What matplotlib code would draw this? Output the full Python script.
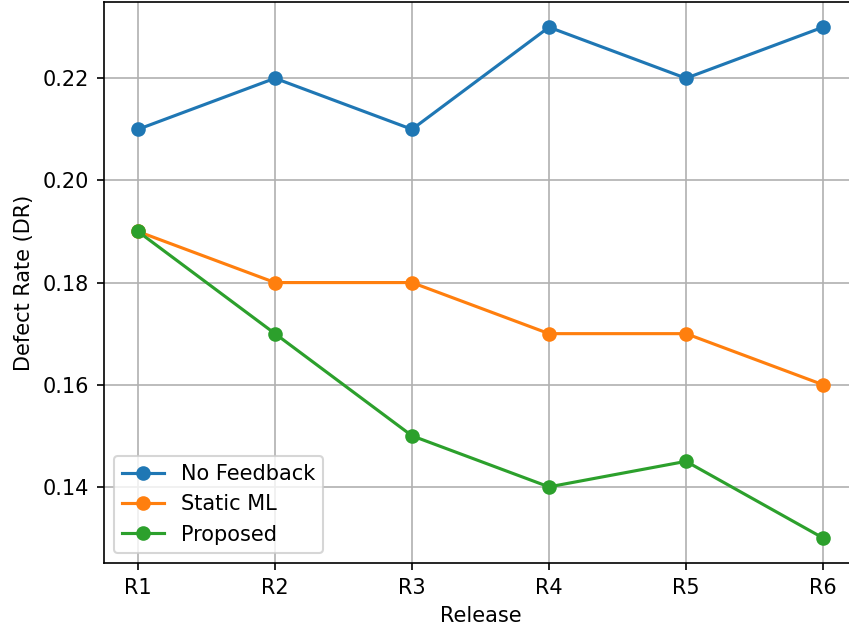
import matplotlib
matplotlib.use("Agg")
import matplotlib.pyplot as plt

# data
releases = ["R1", "R2", "R3", "R4", "R5", "R6"]
no_feedback = [0.21, 0.22, 0.21, 0.23, 0.22, 0.23]
static_ml = [0.19, 0.18, 0.18, 0.17, 0.17, 0.16]
proposed = [0.19, 0.17, 0.15, 0.14, 0.145, 0.13]

# reference looks like a 150 dpi render, right edge of the axes is cropped off
fig = plt.figure(figsize=(8.49 / 1.5, 6.32 / 1.5), dpi=150)
ax = fig.add_axes([0.1222, 0.1084, 0.8875, 0.889])

ax.plot(releases, no_feedback, marker="o", label="No Feedback")
ax.plot(releases, static_ml, marker="o", label="Static ML")
ax.plot(releases, proposed, marker="o", label="Proposed")

ax.set_xlabel("Release")
ax.set_ylabel("Defect Rate (DR)")
ax.grid(True)
ax.legend(loc="lower left")

fig.savefig("out.png", dpi=150)
